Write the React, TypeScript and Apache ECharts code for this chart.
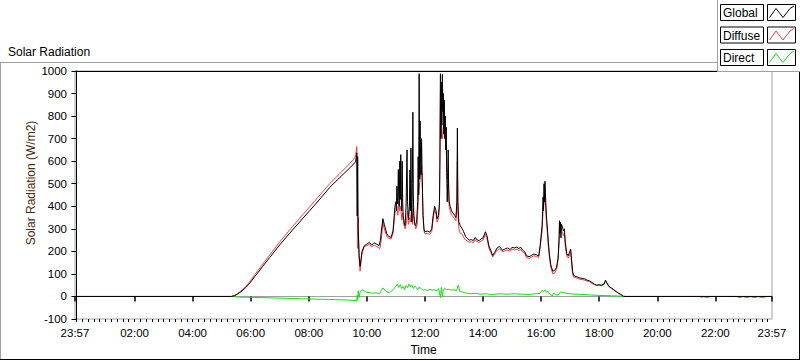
import React, { useEffect, useRef } from "react";
import * as echarts from "echarts";

// X axis: minutes since midnight (23:57 of the previous day = -3)
const xMin = -3;
const xMax = 1437;
const xTickValues = [-3, 120, 240, 360, 480, 600, 720, 840, 960, 1080, 1200, 1320, 1437];
const xTickLabels = ["23:57", "02:00", "04:00", "06:00", "08:00", "10:00", "12:00", "14:00", "16:00", "18:00", "20:00", "22:00", "23:57"];
const minorTickStep = 12;

const yMin = -100;
const yMax = 1000;
const yStep = 100;

const chartTitle = "Solar Radiation";
const yAxisName = "Solar Radiation (W/m2)";
const xAxisName = "Time";
const seriesNames = ["Global", "Diffuse", "Direct"];
const seriesColors = ["#000000", "#ff3a3a", "#14e014"];

const globalData = [
  [-3, 0], [320, 0], [326, 3], [332, 9], [338, 18], [344, 28], [350, 40], [356, 54], [362, 70], [368, 87],
  [375, 106], [385, 134], [399, 172], [420, 229], [440, 279], [461, 330], [482, 381],
  [503, 432], [523, 483], [544, 527], [565, 571], [575, 593], [577, 600], [579, 637], [580, 357], [581, 620], [582, 300],
  [584, 180], [586, 134], [590, 200], [595, 226], [600, 232], [605, 240], [610, 228], [615, 238], [620, 232], [625, 225],
  [628, 250], [630, 290], [633, 345], [636, 320], [641, 280], [645, 266], [650, 262], [654, 290], [658, 400], [660, 420],
  [661, 380], [662, 489], [663, 410], [664, 440], [665, 563], [666, 420], [667, 400], [668, 600], [669, 430], [670, 629],
  [671, 450], [672, 380], [673, 600], [674, 420], [675, 360], [677, 330], [679, 314], [681, 400], [683, 650], [684, 420],
  [686, 340], [688, 400], [689, 560], [690, 380], [691, 658], [692, 420], [693, 330], [694, 500], [695, 817], [696, 450],
  [697, 360], [699, 320], [701, 314], [703, 340], [705, 420], [706, 620], [707, 450], [708, 988], [709, 520], [710, 778],
  [711, 600], [712, 540], [713, 700], [714, 560], [715, 460], [716, 360], [718, 300], [720, 287], [725, 290], [730, 285],
  [734, 300], [737, 360], [740, 400], [743, 380], [745, 344], [748, 360], [750, 420], [751, 600], [752, 988], [753, 700],
  [754, 950], [755, 760], [756, 985], [757, 820], [758, 900], [759, 720], [760, 870], [761, 700], [762, 800], [763, 650],
  [764, 750], [765, 550], [766, 420], [767, 500], [768, 650], [769, 480], [770, 420], [772, 400], [775, 380], [778, 370],
  [781, 360], [784, 350], [786, 420], [787, 747], [788, 420], [790, 330], [793, 314], [797, 300], [800, 287], [804, 265],
  [808, 256], [812, 250], [816, 252], [820, 248], [824, 262], [828, 250], [832, 248], [836, 255], [840, 260], [845, 287],
  [848, 270], [852, 225], [856, 204], [860, 182], [864, 195], [869, 215], [874, 222], [880, 205], [885, 210], [890, 215],
  [896, 208], [900, 218], [905, 215], [910, 220], [913, 212], [918, 218], [922, 205], [926, 198], [930, 180], [935, 176],
  [940, 182], [945, 188], [950, 185], [955, 180], [958, 226], [962, 314], [964, 441], [965, 380], [966, 500], [967, 420],
  [968, 511], [969, 450], [971, 358], [973, 300], [975, 240], [977, 190], [980, 140], [984, 112], [988, 115], [992, 130],
  [995, 170], [997, 250], [998, 336], [999, 280], [1000, 330], [1001, 260], [1002, 320], [1004, 310], [1006, 290], [1008, 300],
  [1010, 240], [1013, 190], [1016, 180], [1021, 210], [1025, 112], [1027, 94], [1030, 90], [1035, 86], [1040, 82], [1045, 80],
  [1050, 78], [1055, 72], [1060, 70], [1065, 62], [1070, 55], [1075, 50], [1080, 52], [1085, 50], [1090, 55], [1093, 72],
  [1096, 60], [1100, 45], [1105, 38], [1110, 30], [1115, 22], [1120, 15], [1125, 8], [1130, 0], [1437, 0],
];

const diffuseData = [
  [-3, 0], [320, 0], [326, 4], [332, 11], [338, 21], [344, 32], [350, 45], [356, 60], [362, 77], [368, 95],
  [375, 115], [385, 144], [399, 183], [420, 242], [440, 294], [461, 346], [482, 398],
  [503, 450], [523, 500], [544, 545], [565, 590], [575, 615], [577, 630], [579, 665], [580, 610], [581, 213], [582, 350],
  [584, 170], [586, 112], [590, 190], [595, 222], [600, 225], [605, 232], [610, 220], [615, 228], [620, 222], [625, 215],
  [627, 213], [630, 255], [633, 328], [636, 300], [641, 268], [645, 258], [650, 255], [654, 280], [658, 370], [660, 380],
  [662, 400], [664, 360], [666, 420], [668, 380], [670, 400], [672, 340], [674, 370], [676, 320], [679, 300], [682, 330],
  [684, 380], [686, 320], [688, 350], [690, 330], [692, 388], [694, 320], [696, 390], [698, 330], [701, 300], [704, 320],
  [706, 420], [708, 480], [710, 520], [712, 578], [714, 533], [716, 360], [718, 290], [720, 278], [725, 280], [730, 275],
  [734, 288], [737, 345], [740, 385], [743, 365], [745, 330], [748, 345], [750, 400], [752, 980], [754, 725], [756, 700],
  [758, 760], [760, 725], [762, 700], [764, 650], [766, 520], [768, 560], [770, 400], [772, 380], [775, 360], [778, 355],
  [781, 345], [784, 335], [786, 400], [787, 600], [788, 380], [790, 300], [793, 280], [797, 275], [800, 262], [804, 250],
  [808, 245], [812, 240], [816, 243], [820, 238], [824, 252], [828, 242], [832, 240], [836, 246], [840, 250], [845, 275],
  [848, 262], [852, 215], [856, 196], [860, 175], [864, 188], [869, 205], [874, 212], [880, 198], [885, 202], [890, 206],
  [896, 200], [900, 210], [905, 206], [910, 210], [913, 204], [918, 208], [922, 198], [926, 190], [930, 172], [935, 168],
  [940, 175], [945, 180], [950, 178], [955, 172], [958, 215], [962, 290], [964, 380], [966, 420], [968, 440], [969, 400],
  [971, 330], [973, 280], [975, 220], [977, 175], [980, 130], [984, 100], [988, 104], [992, 120], [995, 160], [997, 230],
  [998, 310], [1000, 300], [1002, 290], [1004, 285], [1006, 270], [1008, 280], [1010, 220], [1013, 180], [1016, 170], [1021, 195],
  [1025, 100], [1027, 86], [1030, 84], [1035, 80], [1040, 76], [1045, 75], [1050, 72], [1055, 68], [1060, 66], [1065, 58],
  [1070, 52], [1075, 48], [1080, 50], [1085, 48], [1090, 52], [1093, 70], [1096, 58], [1100, 44], [1105, 36], [1110, 28],
  [1115, 20], [1120, 14], [1125, 8], [1130, 2], [1135, 0], [1288, 0], [1292, -4], [1296, 0], [1300, -4], [1305, -4],
  [1310, 0], [1364, 0], [1368, -4], [1372, -4], [1376, 0], [1382, -4], [1388, -4], [1392, 0], [1398, -4], [1404, -4],
  [1408, 0], [1414, -4], [1420, -4], [1426, 0], [1437, 0],
];

const directData = [
  [-3, 0], [320, 0], [337, -3], [360, -4], [400, -6], [460, -10], [520, -13], [560, -16], [577, -18], [579, -20],
  [580, 5], [581, -15], [582, 25], [584, -5], [586, 20], [590, 30], [595, 24], [600, 18], [610, 15], [620, 16],
  [626, 12], [633, 38], [641, 20], [647, 17], [654, 30], [660, 45], [663, 55], [666, 40], [669, 52], [672, 35],
  [675, 45], [678, 30], [681, 48], [684, 38], [687, 55], [690, 42], [693, 50], [696, 35], [699, 45], [702, 40],
  [705, 30], [708, 42], [712, 35], [716, 28], [720, 30], [725, 26], [730, 32], [735, 28], [740, 30], [745, 25],
  [748, 35], [750, 15], [752, -5], [754, 40], [756, 0], [758, 30], [761, 35], [765, 30], [770, 32], [775, 28],
  [780, 30], [785, 25], [789, 50], [792, 22], [797, 20], [805, 15], [815, 12], [825, 14], [835, 10], [845, 12],
  [855, 9], [865, 10], [875, 12], [890, 10], [905, 12], [920, 10], [935, 9], [950, 12], [958, 14], [962, 28],
  [965, 22], [968, 30], [971, 18], [974, 24], [977, 12], [980, 8], [983, 2], [986, 15], [990, 8], [995, 6],
  [1000, 20], [1005, 18], [1012, 14], [1020, 12], [1030, 10], [1045, 9], [1060, 7], [1075, 5], [1090, 4], [1105, 3],
  [1120, 2], [1130, 0], [1437, 0],
];

const FONT = "'Liberation Sans', Arial, sans-serif";

function buildMinorTicks(): number[] {
  const out: number[] = [];
  for (let v = 0; v <= xMax; v += minorTickStep) out.push(v);
  return out;
}

function legendGraphics(): any[] {
  const els: any[] = [];
  els.push({
    type: "rect",
    shape: { x: 717.5, y: -5, width: 90, height: 76.5 },
    style: { fill: "#ffffff", stroke: "#a0a0a0", lineWidth: 1 },
    z: 100,
  });
  const rowsY = [4.5, 27, 49.5];
  seriesNames.forEach((name, i) => {
    const r = rowsY[i];
    els.push({
      type: "rect",
      shape: { x: 720.5, y: r, width: 43, height: 16 },
      style: { fill: "#ffffff", stroke: "#000000", lineWidth: 1 },
      z: 101,
    });
    els.push({
      type: "text",
      x: 723,
      y: r + 8.5,
      style: { text: name, font: `12px ${FONT}`, fill: "#000000", verticalAlign: "middle", align: "left" },
      z: 102,
    });
    els.push({
      type: "rect",
      shape: { x: 767.5, y: r, width: 28, height: 16 },
      style: { fill: "#ffffff", stroke: "#000000", lineWidth: 1 },
      z: 101,
    });
    els.push({
      type: "polyline",
      shape: { points: [[769.5, r + 13], [776, r + 4], [783, r + 13], [790, r + 4], [794, r + 1.5]] },
      style: { stroke: seriesColors[i], lineWidth: 1, fill: "none" },
      z: 102,
    });
  });
  return els;
}

function frameGraphics(): any[] {
  return [
    { type: "line", shape: { x1: 0, y1: 62.5, x2: 718, y2: 62.5 }, style: { stroke: "#a0a0a0", lineWidth: 1 }, z: 50 },
    { type: "line", shape: { x1: 0.5, y1: 62, x2: 0.5, y2: 360 }, style: { stroke: "#a0a0a0", lineWidth: 1 }, z: 50 },
    { type: "line", shape: { x1: 0, y1: 359.5, x2: 800, y2: 359.5 }, style: { stroke: "#000000", lineWidth: 1 }, z: 50 },
    { type: "line", shape: { x1: 799.5, y1: 70, x2: 799.5, y2: 360 }, style: { stroke: "#000000", lineWidth: 1 }, z: 50 },
    {
      type: "text",
      x: 31,
      y: 183,
      rotation: Math.PI / 2,
      style: { text: yAxisName, font: `12px ${FONT}`, fill: "#4a2a10", align: "center", verticalAlign: "middle" },
      z: 50,
    },
  ];
}

export default function App() {
  const ref = useRef<HTMLDivElement>(null);

  useEffect(() => {
    if (!ref.current) return;
    const chart = echarts.init(ref.current, undefined, { renderer: "svg" });
    const labelFor = (v: number) => {
      const i = xTickValues.indexOf(v);
      return i >= 0 ? xTickLabels[i] : "";
    };
    const mk = (name: string, color: string, data: number[][]) => ({
      name,
      type: "line",
      data,
      xAxisIndex: 0,
      yAxisIndex: 0,
      showSymbol: false,
      symbol: "none",
      lineStyle: { color, width: 1 },
      itemStyle: { color },
      silent: true,
    });
    chart.setOption({
      animation: false,
      backgroundColor: "#ffffff",
      title: {
        text: chartTitle,
        left: 3,
        top: 41,
        textStyle: { fontFamily: FONT, fontSize: 12, fontWeight: "normal", color: "#000000" },
      },
      grid: {
        left: 75,
        right: 28,
        top: 71,
        bottom: 39,
        show: true,
        borderColor: "#a0a0a0",
        borderWidth: 1,
        backgroundColor: "#ffffff",
      },
      xAxis: [
        {
          type: "value",
          position: "bottom",
          min: xMin,
          max: xMax,
          name: xAxisName,
          nameLocation: "middle",
          nameGap: 25,
          nameTextStyle: { fontFamily: FONT, fontSize: 12, color: "#000000" },
          axisLine: { show: true, lineStyle: { color: "#a0a0a0", width: 1 } },
          axisTick: { show: true, length: 5, inside: false, customValues: xTickValues, lineStyle: { color: "#000000", width: 1.5 } },
          axisLabel: {
            show: true,
            customValues: xTickValues,
            formatter: labelFor,
            margin: 8,
            fontFamily: FONT,
            fontSize: 11.5,
            color: "#000000",
          },
          splitLine: { show: false },
        },
        {
          type: "value",
          position: "bottom",
          offset: 0,
          min: xMin,
          max: xMax,
          axisLine: { show: false },
          axisTick: { show: true, length: 3, inside: false, customValues: buildMinorTicks(), lineStyle: { color: "#000000", width: 1 } },
          axisLabel: { show: false },
          splitLine: { show: false },
        },
        {
          type: "value",
          position: "top",
          min: xMin,
          max: xMax,
          axisLine: { show: true, lineStyle: { color: "#000000", width: 1 } },
          axisTick: { show: false },
          axisLabel: { show: false },
          splitLine: { show: false },
        },
      ],
      yAxis: {
        type: "value",
        min: yMin,
        max: yMax,
        interval: yStep,
        axisLine: { show: true, lineStyle: { color: "#000000", width: 1 } },
        axisTick: { show: true, length: 5, inside: false, lineStyle: { color: "#000000", width: 1 } },
        axisLabel: {
          margin: 8,
          fontFamily: FONT,
          fontSize: 11.5,
          color: "#000000",
          formatter: (v: number) => String(v),
        },
        splitLine: { show: false },
      },
      graphic: [...frameGraphics(), ...legendGraphics()],
      series: [
        mk(seriesNames[2], seriesColors[2], directData),
        mk(seriesNames[1], seriesColors[1], diffuseData),
        mk(seriesNames[0], seriesColors[0], globalData),
      ],
    });
    return () => chart.dispose();
  }, []);

  return (
    <div
      ref={ref}
      style={{ position: "fixed", left: 0, top: 0, width: 800, height: 361, background: "#ffffff" }}
    />
  );
}
